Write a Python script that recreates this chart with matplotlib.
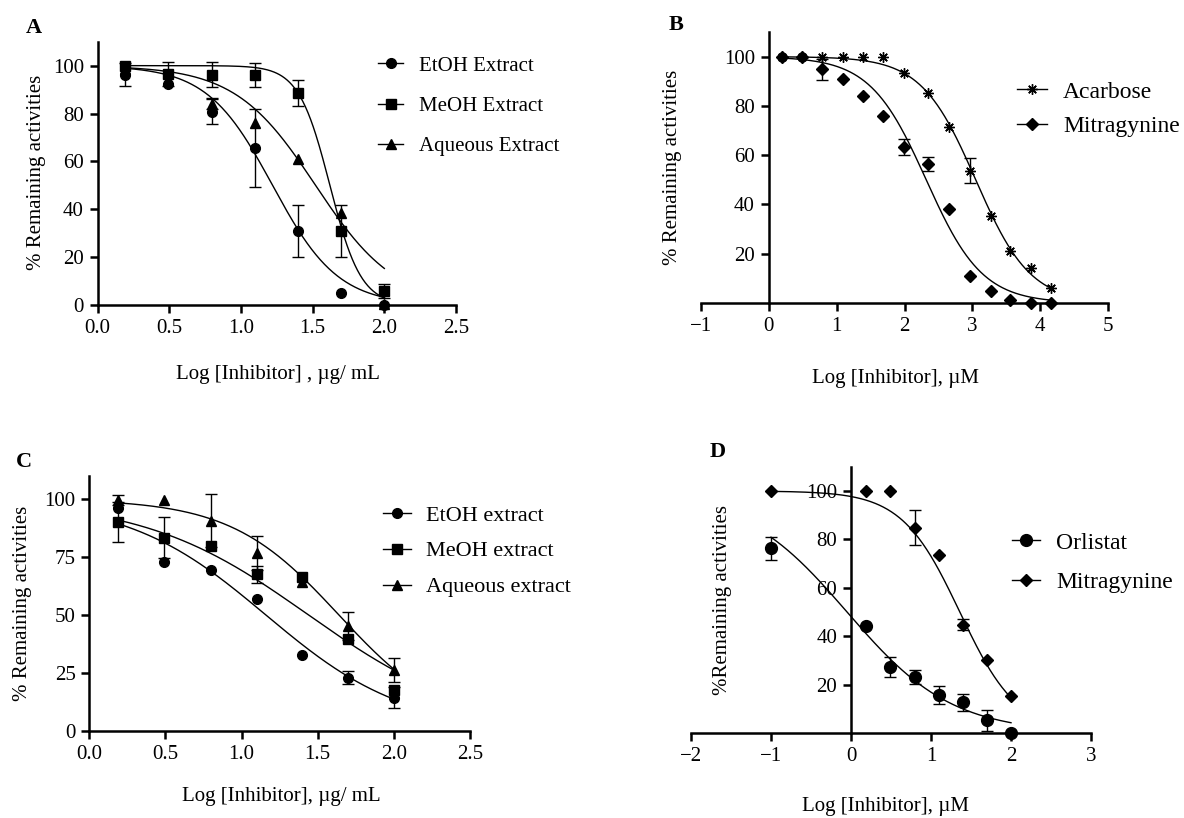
import numpy as np
import matplotlib.pyplot as plt
from matplotlib.lines import Line2D

plt.rcParams['font.family'] = ['Liberation Serif', 'DejaVu Serif']
plt.rcParams['font.size'] = 15

W, H = 1184, 818

# log concentration, ug/mL (1.5625 .. 100, two-fold)
log_ext = [0.19, 0.49, 0.80, 1.10, 1.40, 1.70, 2.00]

# A: alpha-glucosidase, extracts
a_etoh = [96.2, 92.2, 80.8, 65.6, 30.8, 5.0, 0.0]
a_etoh_err = [4.8, 0, 5.2, 16.2, 10.9, 0, 0]
a_meoh = [100.0, 96.5, 96.2, 96.1, 88.6, 30.8, 5.8]
a_meoh_err = [0, 5.2, 5.2, 5.2, 5.3, 10.9, 2.8]
a_aq = [98.6, 94.0, 84.0, 76.0, 61.1, 38.5, 0.5]
a_aq_err = [0, 0, 2.3, 0, 0, 0, 0]

# B: alpha-glucosidase, pure compounds (uM)
log_b = [0.19, 0.49, 0.79, 1.09, 1.39, 1.69, 1.99, 2.35, 2.66, 2.97, 3.27, 3.56, 3.86, 4.16]
b_acarbose = [100, 100, 100, 100, 100, 100, 93.5, 85.4, 71.3, 53.7, 35.5, 21.3, 14.2, 6.1]
b_acarbose_err = [0, 0, 0, 0, 0, 0, 0, 0, 0, 5.1, 0, 0, 0, 0]
b_mitra = [100, 100, 94.9, 90.8, 84.1, 76.1, 63.2, 56.4, 38.3, 11.1, 4.7, 1.2, 0.0, 0.0]
b_mitra_err = [0, 0, 4.3, 0, 0, 0, 3.3, 2.8, 0, 0, 0, 0, 0, 0]

# C: lipase, extracts
c_etoh = [96.0, 72.7, 69.4, 56.8, 32.8, 23.0, 14.4]
c_etoh_err = [0, 0, 0, 0, 0, 2.9, 4.5]
c_meoh = [90.2, 83.3, 79.9, 67.5, 66.5, 39.7, 17.7]
c_meoh_err = [8.6, 8.8, 0, 3.5, 0, 0, 0]
c_aq = [99.6, 99.6, 90.7, 76.6, 64.4, 45.3, 26.3]
c_aq_err = [2.0, 0, 11.5, 7.3, 0, 6.1, 5.0]

# D: lipase, pure compounds (uM)
log_d = [-1.0, 0.19, 0.49, 0.80, 1.10, 1.40, 1.70, 2.00]
d_orlistat = [76.3, 44.4, 27.2, 23.1, 15.8, 12.7, 5.2, 0.0]
d_orlistat_err = [4.8, 0, 4.0, 2.9, 3.8, 3.6, 4.5, 0]
d_mitra = [100, 100, 100, 84.9, 73.6, 44.7, 30.3, 15.4]
d_mitra_err = [0, 0, 0, 7.2, 0, 2.3, 0, 0]

# fitted log(inhibitor) vs response, (logIC50, hill slope), top 100 / bottom 0
fit_a = [(1.22, 1.9), (1.62, 4.0), (1.52, 1.55)]
fit_b = [(3.05, 1.08), (2.32, 1.05)]
fit_c = [(1.16, 0.95), (1.44, 0.80), (1.64, 1.22)]
fit_d = [(-0.05, 0.66), (1.36, 1.2)]


def logistic(x, logic50, hill):
    return 100.0 / (1.0 + 10 ** ((x - logic50) * hill))


def make_axes(fig, x0, x1, y0, ytop):
    # pixel box -> figure fraction
    return fig.add_axes([x0 / W, (H - y0) / H, (x1 - x0) / W, (y0 - ytop) / H])


def style(ax, xlim, xticks, yticks, cross_zero=False):
    ax.set_xlim(*xlim)
    ax.set_ylim(0, 110)
    ax.set_xticks(xticks)
    ax.set_yticks(yticks)
    for s in ('top', 'right'):
        ax.spines[s].set_visible(False)
    for s in ('left', 'bottom'):
        ax.spines[s].set_linewidth(1.8)
    if cross_zero:
        ax.spines['left'].set_position(('data', 0))
    ax.spines['left'].set_bounds(0, 110)
    ax.tick_params(direction='out', length=6, width=1.8, labelsize=15, pad=4)


def series(ax, x, y, err, fit, xr, marker, ms, label):
    x = np.asarray(x)
    y = np.asarray(y)
    err = np.asarray(err)
    m = err > 0
    if m.any():
        ax.errorbar(x[m], y[m], yerr=err[m], fmt='none', ecolor='black',
                    elinewidth=1.0, capsize=4.5, capthick=1.0, clip_on=False, zorder=2)
    xs = np.linspace(xr[0], xr[1], 300)
    ax.plot(xs, logistic(xs, *fit), color='black', lw=1.0, zorder=3)
    ax.plot(x, y, ls='none', marker=marker, ms=ms, color='black', mew=1.0,
            clip_on=False, zorder=4)
    return Line2D([], [], color='black', lw=1.0, marker=marker, ms=ms, mew=1.0, label=label)


def legend(ax, handles, x, y, size, spacing, hlen, pad):
    ax.legend(handles=handles, loc='upper left', bbox_to_anchor=(x / W, 1 - y / H),
              bbox_transform=ax.figure.transFigure, frameon=False, fontsize=size,
              handlelength=hlen, handletextpad=pad, labelspacing=spacing,
              borderpad=0, borderaxespad=0)


def labels(ax, xlab, ylab, xc, yc):
    ax.set_xlabel(xlab, fontsize=15, va='center')
    ax.set_ylabel(ylab, fontsize=15, va='center')
    inv = ax.transAxes.inverted()
    to_disp = lambda px, py: (px * ax.figure.dpi / 100, (H - py) * ax.figure.dpi / 100)
    ax.xaxis.set_label_coords(*inv.transform(to_disp(*xc)))
    ax.yaxis.set_label_coords(*inv.transform(to_disp(*yc)))


fig = plt.figure(figsize=(W / 100, H / 100), dpi=100)

# ---- A ----
ax = make_axes(fig, 97.7, 456, 305, 41.7)
style(ax, (0, 2.5), np.arange(0, 2.51, 0.5), np.arange(0, 101, 20))
ax.xaxis.set_major_formatter(plt.FormatStrFormatter('%.1f'))
h = [series(ax, log_ext, a_etoh, a_etoh_err, fit_a[0], (0.19, 2.0), 'o', 7, 'EtOH Extract'),
     series(ax, log_ext, a_meoh, a_meoh_err, fit_a[1], (0.19, 2.0), 's', 7, 'MeOH Extract'),
     series(ax, log_ext, a_aq, a_aq_err, fit_a[2], (0.19, 2.0), '^', 7.5, 'Aqueous Extract')]
legend(ax, h, 378, 56, 15, 0.99, 1.2, 0.77)
labels(ax, 'Log [Inhibitor] , µg/ mL', '% Remaining activities', (278, 375), (37, 172))
fig.text(34 / W, 1 - 28 / H, 'A', fontsize=16, fontweight='bold', ha='center', va='center')

# ---- B ----
ax = make_axes(fig, 701, 1108, 303, 32)
style(ax, (-1, 5), np.arange(-1, 6), np.arange(20, 101, 20), cross_zero=True)
h = [series(ax, log_b, b_acarbose, b_acarbose_err, fit_b[0], (0.19, 4.16), (8, 2, 0), 7.5, 'Acarbose'),
     series(ax, log_b, b_mitra, b_mitra_err, fit_b[1], (0.19, 4.16), 'D', 6.5, 'Mitragynine')]
legend(ax, h, 1017, 81, 17, 0.55, 1.27, 0.68)
labels(ax, 'Log [Inhibitor], µM', '% Remaining activities', (896, 378), (672, 167))
fig.text(676 / W, 1 - 25 / H, 'B', fontsize=16, fontweight='bold', ha='center', va='center')

# ---- C ----
ax = make_axes(fig, 89.4, 469.8, 731, 475.8)
style(ax, (0, 2.5), np.arange(0, 2.51, 0.5), np.arange(0, 101, 25))
ax.xaxis.set_major_formatter(plt.FormatStrFormatter('%.1f'))
h = [series(ax, log_ext, c_etoh, c_etoh_err, fit_c[0], (0.19, 2.0), 'o', 7, 'EtOH extract'),
     series(ax, log_ext, c_meoh, c_meoh_err, fit_c[1], (0.19, 2.0), 's', 7, 'MeOH extract'),
     series(ax, log_ext, c_aq, c_aq_err, fit_c[2], (0.19, 2.0), '^', 7.5, 'Aqueous extract')]
legend(ax, h, 383, 505, 16, 0.69, 1.26, 0.68)
labels(ax, 'Log [Inhibitor], µg/ mL', '% Remaining activities', (281, 797), (23, 603))
fig.text(24 / W, 1 - 462 / H, 'C', fontsize=16, fontweight='bold', ha='center', va='center')

# ---- D ----
ax = make_axes(fig, 691, 1091, 733, 466.8)
style(ax, (-2, 3), np.arange(-2, 4), np.arange(20, 101, 20), cross_zero=True)
h = [series(ax, log_d, d_orlistat, d_orlistat_err, fit_d[0], (-1.0, 2.0), 'o', 8.5, 'Orlistat'),
     series(ax, log_d, d_mitra, d_mitra_err, fit_d[1], (-1.0, 2.0), 'D', 6, 'Mitragynine')]
legend(ax, h, 1012, 532, 17, 0.76, 1.19, 0.68)
labels(ax, 'Log [Inhibitor], µM', '%Remaining activities', (886, 807), (722, 600))
fig.text(718 / W, 1 - 452 / H, 'D', fontsize=16, fontweight='bold', ha='center', va='center')

fig.savefig('out.png', dpi=100)
